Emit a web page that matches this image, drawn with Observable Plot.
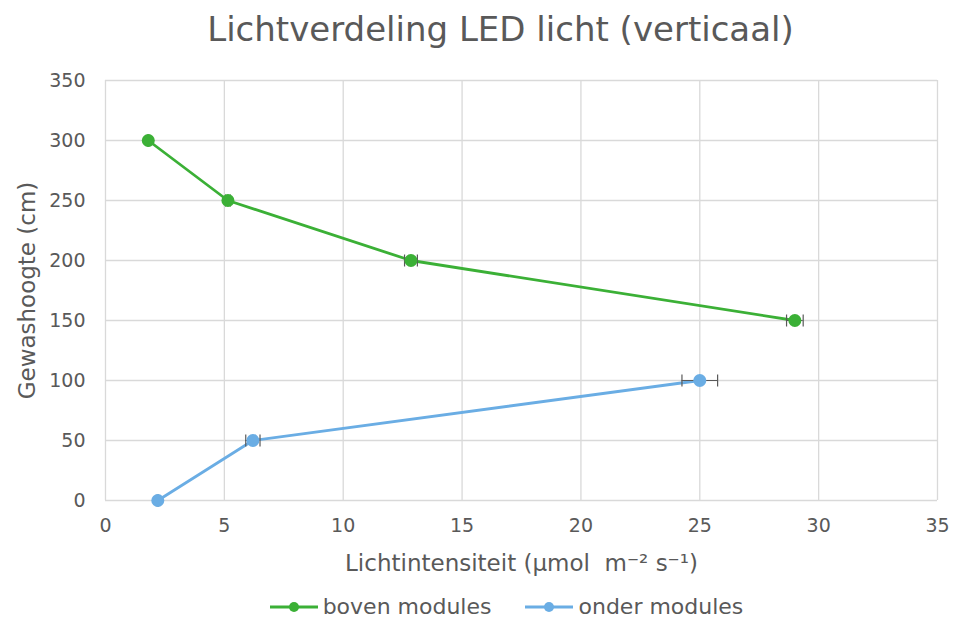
<!DOCTYPE html>
<html>
<head>
<meta charset="utf-8">
<script src="https://cdn.jsdelivr.net/npm/d3@7"></script>
<script src="https://cdn.jsdelivr.net/npm/@observablehq/plot@0.6"></script>
<style>
  body { margin: 0; background: #fff; font-family: "DejaVu Sans", Verdana, sans-serif; }
  #title { height: 62px; line-height: 58px; text-align: center; padding-left: 46px; font-size: 34px; color: #595959; }
  #legend { display: flex; justify-content: center; padding-left: 58px; gap: 34px; font-size: 22px; color: #595959; height: 37px; align-items: center; padding-top: 12px; box-sizing: border-box; }
  .item { display: flex; align-items: center; gap: 5px; }
</style>
</head>
<body>
<div id="title">Lichtverdeling LED licht (verticaal)</div>
<div id="chart"></div>
<div id="legend"></div>
<script>
const seriesNames = ["boven modules", "onder modules"];
const seriesColors = ["#3bb036", "#6aade4"];
const bovenHeight = [300, 250, 200, 150];
const bovenLight = [1.8, 5.15, 12.85, 29.0];
const bovenErr = [0.03, 0.1, 0.27, 0.35];
const onderHeight = [0, 50, 100];
const onderLight = [2.2, 6.2, 25.0];
const onderErr = [0.03, 0.3, 0.75];
const xTicks = [0, 5, 10, 15, 20, 25, 30, 35];
const yTicks = [0, 50, 100, 150, 200, 250, 300, 350];

const data = [
  ...bovenHeight.map((h, i) => ({s: seriesNames[0], y: h, x: bovenLight[i], e: bovenErr[i]})),
  ...onderHeight.map((h, i) => ({s: seriesNames[1], y: h, x: onderLight[i], e: onderErr[i]}))
];
const ends = data.flatMap(d => [{s: d.s, y: d.y, x: d.x - d.e}, {s: d.s, y: d.y, x: d.x + d.e}]);
const vbar = { draw(ctx, size) { const h = Math.sqrt(size / Math.PI); ctx.moveTo(0, -h); ctx.lineTo(0, h); } };

const chart = Plot.plot({
  width: 955, height: 520,
  marginLeft: 105, marginRight: 18, marginTop: 18, marginBottom: 82,
  style: { fontFamily: "DejaVu Sans, Verdana, sans-serif", fontSize: "19px", color: "#595959" },
  x: { domain: [0, 35], ticks: xTicks, label: null },
  y: { domain: [0, 350], ticks: yTicks, label: null },
  color: { domain: seriesNames, range: seriesColors },
  marks: [
    Plot.gridX(xTicks, { stroke: "#d9d9d9", strokeOpacity: 1, strokeWidth: 1.3 }),
    Plot.gridY(yTicks, { stroke: "#d9d9d9", strokeOpacity: 1, strokeWidth: 1.3 }),
    Plot.axisX(xTicks, { tickSize: 0, tickPadding: 18, fill: "#595959", fontSize: 19 }),
    Plot.axisY(yTicks, { tickSize: 0, tickPadding: 20, fill: "#595959", fontSize: 19 }),
    Plot.line(data, { x: "x", y: "y", z: "s", stroke: "s", strokeWidth: 2.8 }),
    Plot.ruleY(data, { y: "y", x1: d => d.x - d.e, x2: d => d.x + d.e, stroke: "#595959", strokeWidth: 1 }),
    Plot.dot(ends, { x: "x", y: "y", symbol: vbar, r: 6, stroke: "#595959", strokeWidth: 1.2 }),
    Plot.dot(data, { x: "x", y: "y", fill: "s", r: 6.5 }),
    Plot.text(["Gewashoogte (cm)"], { frameAnchor: "left", textAnchor: "middle", lineAnchor: "middle", dx: -78, rotate: -90, fontSize: 23, fill: "#595959", style: "letter-spacing: 0.6px" }),
    Plot.text(["Lichtintensiteit (µmol  m⁻² s⁻¹)"], { frameAnchor: "bottom", textAnchor: "middle", lineAnchor: "middle", dx: 0, dy: 63, fontSize: 23, fill: "#595959" })
  ]
});
document.getElementById("chart").append(chart);

const leg = document.getElementById("legend");
seriesNames.forEach((n, i) => {
  const it = document.createElement("div");
  it.className = "item";
  it.innerHTML = `<svg width="48" height="12"><line x1="0" y1="6" x2="48" y2="6" stroke="${seriesColors[i]}" stroke-width="2.8"/><circle cx="24" cy="6" r="5" fill="${seriesColors[i]}"/></svg><span>${n}</span>`;
  leg.append(it);
});
</script>
</body>
</html>
